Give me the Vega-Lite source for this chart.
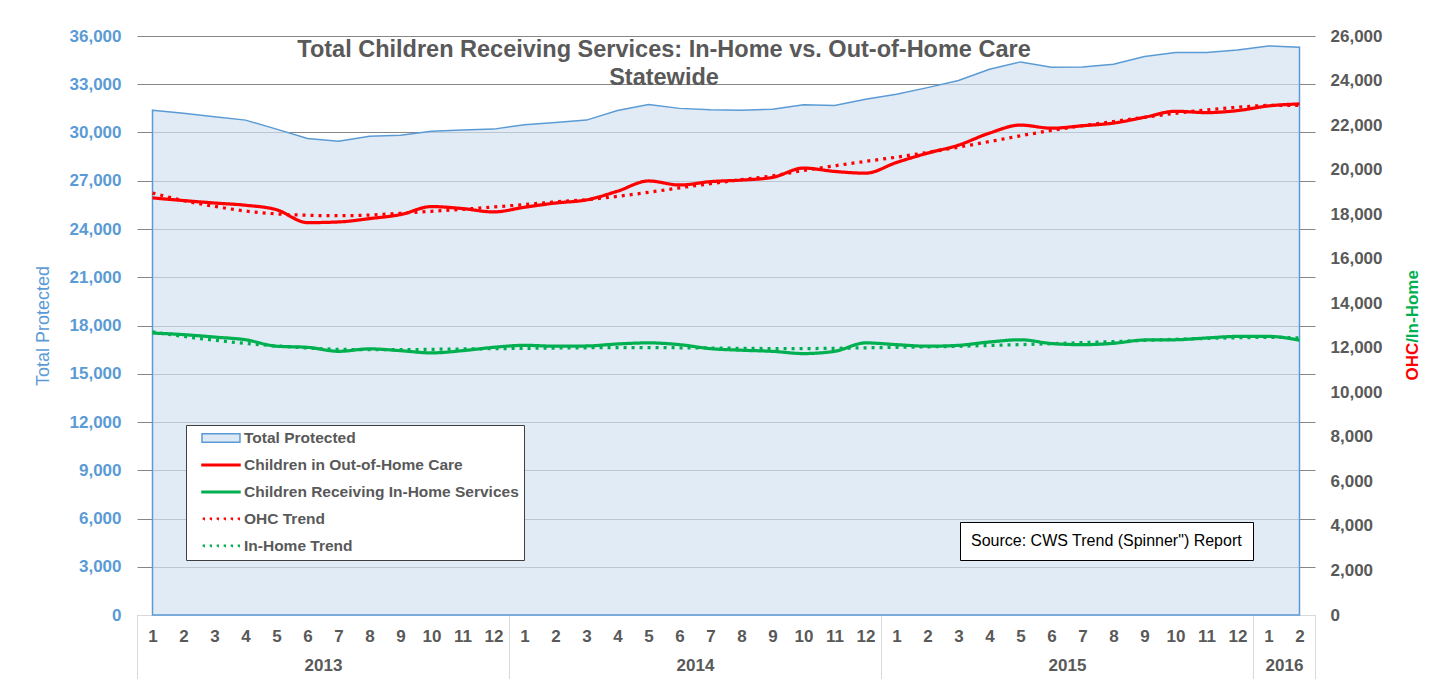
{
  "$schema": "https://vega.github.io/schema/vega-lite/v6.json",
  "width": 1178,
  "height": 579,
  "autosize": "none",
  "padding": {"left": 137, "top": 36, "right": 129, "bottom": 64},
  "background": "white",
  "config": {"font": "Liberation Sans", "view": {"stroke": null}},
  "title": {
    "text": ["Total Children Receiving Services: In-Home vs. Out-of-Home Care", "Statewide"],
    "fontSize": 23.5, "fontWeight": "bold", "color": "#595959", "lineHeight": 28,
    "anchor": "middle", "frame": "group", "dx": -62, "offset": -62
  },
  "data": {"values": [
    {"m":1,"tp":31390,"ohc":18730,"ohct":18950,"ih":12660,"iht":12710},
    {"m":2,"tp":31190,"ohc":18610,"ohct":18610,"ih":12590,"iht":12510},
    {"m":3,"tp":30980,"ohc":18500,"ohct":18350,"ih":12480,"iht":12340},
    {"m":4,"tp":30770,"ohc":18400,"ohct":18140,"ih":12360,"iht":12200},
    {"m":5,"tp":30210,"ohc":18200,"ohct":18010,"ih":12070,"iht":12080},
    {"m":6,"tp":29630,"ohc":17620,"ohct":17950,"ih":12020,"iht":11990},
    {"m":7,"tp":29460,"ohc":17650,"ohct":17930,"ih":11840,"iht":11930},
    {"m":8,"tp":29770,"ohc":17800,"ohct":17960,"ih":11950,"iht":11915},
    {"m":9,"tp":29830,"ohc":17980,"ohct":18040,"ih":11870,"iht":11915},
    {"m":10,"tp":30080,"ohc":18340,"ohct":18130,"ih":11770,"iht":11930},
    {"m":11,"tp":30150,"ohc":18250,"ohct":18220,"ih":11870,"iht":11945},
    {"m":12,"tp":30210,"ohc":18100,"ohct":18320,"ih":12020,"iht":11960},
    {"m":13,"tp":30480,"ohc":18310,"ohct":18430,"ih":12110,"iht":11975},
    {"m":14,"tp":30620,"ohc":18500,"ohct":18550,"ih":12070,"iht":11990},
    {"m":15,"tp":30770,"ohc":18640,"ohct":18650,"ih":12080,"iht":12000},
    {"m":16,"tp":31370,"ohc":19030,"ohct":18800,"ih":12170,"iht":12005},
    {"m":17,"tp":31740,"ohc":19490,"ohct":18980,"ih":12220,"iht":12005},
    {"m":18,"tp":31500,"ohc":19310,"ohct":19180,"ih":12140,"iht":12000},
    {"m":19,"tp":31410,"ohc":19460,"ohct":19370,"ih":11960,"iht":11990},
    {"m":20,"tp":31390,"ohc":19530,"ohct":19550,"ih":11890,"iht":11975},
    {"m":21,"tp":31450,"ohc":19650,"ohct":19720,"ih":11840,"iht":11965},
    {"m":22,"tp":31720,"ohc":20070,"ohct":19960,"ih":11740,"iht":11965},
    {"m":23,"tp":31680,"ohc":19920,"ohct":20170,"ih":11840,"iht":11975},
    {"m":24,"tp":32070,"ohc":19840,"ohct":20370,"ih":12220,"iht":12000},
    {"m":25,"tp":32380,"ohc":20320,"ohct":20560,"ih":12140,"iht":12020},
    {"m":26,"tp":32790,"ohc":20740,"ohct":20770,"ih":12070,"iht":12040},
    {"m":27,"tp":33230,"ohc":21100,"ohct":21010,"ih":12110,"iht":12065},
    {"m":28,"tp":33930,"ohc":21640,"ohct":21260,"ih":12260,"iht":12105},
    {"m":29,"tp":34390,"ohc":22000,"ohct":21520,"ih":12360,"iht":12140},
    {"m":30,"tp":34060,"ohc":21860,"ohct":21760,"ih":12190,"iht":12185},
    {"m":31,"tp":34080,"ohc":21970,"ohct":21970,"ih":12140,"iht":12230},
    {"m":32,"tp":34240,"ohc":22090,"ohct":22160,"ih":12200,"iht":12275},
    {"m":33,"tp":34720,"ohc":22350,"ohct":22350,"ih":12350,"iht":12335},
    {"m":34,"tp":34970,"ohc":22620,"ohct":22530,"ih":12360,"iht":12380},
    {"m":35,"tp":34970,"ohc":22560,"ohct":22680,"ih":12440,"iht":12420},
    {"m":36,"tp":35130,"ohc":22650,"ohct":22800,"ih":12510,"iht":12450},
    {"m":37,"tp":35380,"ohc":22860,"ohct":22880,"ih":12510,"iht":12470},
    {"m":38,"tp":35300,"ohc":22950,"ohct":22880,"ih":12340,"iht":12440}
  ]},
  "layer": [
    {
      "transform": [{"fold": ["tp"], "as": ["key", "v"]}],
      "mark": {"type": "area", "fill": "#D4E2F1", "fillOpacity": 0.7, "strokeWidth": 1.5},
      "encoding": {
        "x": {"field": "m", "type": "quantitative",
          "scale": {"domain": [0.5, 38.5], "nice": false, "zero": false},
          "axis": {"orient": "bottom", "values": [1,2,3,4,5,6,7,8,9,10,11,12,13,14,15,16,17,18,19,20,21,22,23,24,25,26,27,28,29,30,31,32,33,34,35,36,37,38],
            "labelExpr": "(datum.value - 1) % 12 + 1", "grid": false, "ticks": false, "tickSize": 0,
            "domain": true, "domainColor": "#D9D9D9", "labelFontSize": 17, "labelFontWeight": "bold",
            "labelColor": "#595959", "labelPadding": 13, "labelOverlap": false, "labelFlush": false, "title": null}},
        "y": {"field": "v", "type": "quantitative", "stack": null,
          "scale": {"domain": [0, 36000], "nice": false, "zero": true},
          "axis": {"orient": "left", "values": [0,3000,6000,9000,12000,15000,18000,21000,24000,27000,30000,33000,36000],
            "format": ",.0f", "grid": true, "gridColor": "#868686", "gridWidth": 1, "ticks": false, "domain": false,
            "labelFontSize": 17, "labelFontWeight": "bold", "labelColor": "#5B9BD5", "labelPadding": 16,
            "title": "Total Protected", "titleColor": "#5B9BD5", "titleFontSize": 18, "titleFontWeight": "normal", "titlePadding": 17}},
        "stroke": {"field": "key", "type": "nominal",
          "scale": {"domain": ["tp", "ohc", "ih", "ohct", "iht"], "range": ["#5B9BD5", "#FF0000", "#00B050", "#FF0000", "#00B050"]},
          "legend": {"orient": "none", "legendX": 49, "legendY": 389, "title": null,
            "labelExpr": "datum.value === 'tp' ? 'Total Protected' : datum.value === 'ohc' ? 'Children in Out-of-Home Care' : datum.value === 'ih' ? 'Children Receiving In-Home Services' : datum.value === 'ohct' ? 'OHC Trend' : 'In-Home Trend'",
            "labelFontSize": 15.5, "labelFontWeight": "bold", "labelColor": "#595959", "labelLimit": 500, "labelOffset": 37,
            "symbolSize": 196, "symbolStrokeWidth": 1.5, "rowPadding": 10, "padding": 5,
            "fillColor": "#FFFFFF", "strokeColor": "#404040",
            "encode": {"symbols": {"update": {
              "shape": {"signal": "datum.value === 'tp' ? 'M0.429,-0.6H5.857V0.6H0.429Z' : (datum.value === 'ohc' || datum.value === 'ih') ? 'M0.429,-0.107H5.857V0.107H0.429Z' : 'M0.536,-0.107H0.75V0.107H0.536Z M1.536,-0.107H1.75V0.107H1.536Z M2.536,-0.107H2.75V0.107H2.536Z M3.536,-0.107H3.75V0.107H3.536Z M4.536,-0.107H4.75V0.107H4.536Z M5.536,-0.107H5.75V0.107H5.536Z'"},
              "fill": {"signal": "datum.value === 'tp' ? '#DCE9F5' : (datum.value === 'ohc' || datum.value === 'ohct') ? '#FF0000' : '#00B050'"},
              "strokeDash": {"value": []},
              "opacity": {"value": 1},
              "fillOpacity": {"value": 1},
              "strokeOpacity": {"value": 1}
            }}}}}
      }
    },
    {
      "transform": [{"fold": ["ohct", "ohc"], "as": ["key", "v"]}],
      "mark": {"type": "line", "strokeWidth": 3.25, "interpolate": "monotone"},
      "encoding": {
        "x": {"field": "m", "type": "quantitative",
          "scale": {"domain": [0.5, 38.5], "nice": false, "zero": false},
          "axis": {"orient": "bottom", "values": [0.5, 6.5, 12.5, 18.5, 24.5, 30.5, 36.5, 37.5, 38.5],
            "labelExpr": "datum.value === 6.5 ? '2013' : datum.value === 18.5 ? '2014' : datum.value === 30.5 ? '2015' : datum.value === 37.5 ? '2016' : ''",
            "grid": false, "domain": false, "ticks": true, "tickSize": 64, "tickColor": "#D9D9D9", "tickWidth": 1,
            "tickOpacity": {"condition": {"test": "datum.value === 6.5 || datum.value === 18.5 || datum.value === 30.5 || datum.value === 37.5", "value": 0}, "value": 1},
            "labelFontSize": 17, "labelFontWeight": "bold", "labelColor": "#595959", "labelPadding": -22,
            "labelOverlap": false, "labelFlush": false, "title": null}},
        "y": {"field": "v", "type": "quantitative",
          "scale": {"domain": [0, 26000], "nice": false, "zero": true},
          "axis": {"orient": "right", "values": [0,2000,4000,6000,8000,10000,12000,14000,16000,18000,20000,22000,24000,26000],
            "format": ",.0f", "grid": false, "ticks": false, "domain": false,
            "labelFontSize": 17, "labelFontWeight": "bold", "labelColor": "#595959", "labelPadding": 15,
            "title": "OHC", "titleColor": "#FF0000", "titleFontSize": 17, "titleFontWeight": "bold",
            "titleAngle": 270, "titleX": 97, "titleY": 325, "titleAlign": "center", "titleBaseline": "middle"}},
        "stroke": {"field": "key", "type": "nominal",
          "scale": {"domain": ["tp", "ohc", "ih", "ohct", "iht"], "range": ["#5B9BD5", "#FF0000", "#00B050", "#FF0000", "#00B050"]},
          "legend": {"orient": "none", "legendX": 49, "legendY": 389, "title": null,
            "labelExpr": "datum.value === 'tp' ? 'Total Protected' : datum.value === 'ohc' ? 'Children in Out-of-Home Care' : datum.value === 'ih' ? 'Children Receiving In-Home Services' : datum.value === 'ohct' ? 'OHC Trend' : 'In-Home Trend'",
            "labelFontSize": 15.5, "labelFontWeight": "bold", "labelColor": "#595959", "labelLimit": 500, "labelOffset": 37,
            "symbolSize": 196, "symbolStrokeWidth": 1.5, "rowPadding": 10, "padding": 5,
            "fillColor": "#FFFFFF", "strokeColor": "#404040",
            "encode": {"symbols": {"update": {
              "shape": {"signal": "datum.value === 'tp' ? 'M0.429,-0.6H5.857V0.6H0.429Z' : (datum.value === 'ohc' || datum.value === 'ih') ? 'M0.429,-0.107H5.857V0.107H0.429Z' : 'M0.536,-0.107H0.75V0.107H0.536Z M1.536,-0.107H1.75V0.107H1.536Z M2.536,-0.107H2.75V0.107H2.536Z M3.536,-0.107H3.75V0.107H3.536Z M4.536,-0.107H4.75V0.107H4.536Z M5.536,-0.107H5.75V0.107H5.536Z'"},
              "fill": {"signal": "datum.value === 'tp' ? '#DCE9F5' : (datum.value === 'ohc' || datum.value === 'ohct') ? '#FF0000' : '#00B050'"},
              "strokeDash": {"value": []},
              "opacity": {"value": 1},
              "fillOpacity": {"value": 1},
              "strokeOpacity": {"value": 1}
            }}}}},
        "strokeDash": {"field": "key", "type": "nominal",
          "scale": {"domain": ["tp", "ohc", "ih", "ohct", "iht"], "range": [[1, 0], [1, 0], [1, 0], [3, 5], [3, 5]]},
          "legend": null}
      }
    },
    {
      "transform": [{"fold": ["iht", "ih"], "as": ["key", "v"]}],
      "mark": {"type": "line", "strokeWidth": 3.25, "interpolate": "monotone"},
      "encoding": {
        "x": {"field": "m", "type": "quantitative",
          "scale": {"domain": [0.5, 38.5], "nice": false, "zero": false}, "axis": null},
        "y": {"field": "v", "type": "quantitative",
          "scale": {"domain": [0, 26000], "nice": false, "zero": true},
          "axis": {"orient": "right", "labels": false, "ticks": false, "domain": false, "grid": false,
            "title": "/In-Home", "titleColor": "#00B050", "titleFontSize": 17, "titleFontWeight": "bold",
            "titleAngle": 270, "titleX": 97, "titleY": 270, "titleAlign": "center", "titleBaseline": "middle"}},
        "stroke": {"field": "key", "type": "nominal",
          "scale": {"domain": ["tp", "ohc", "ih", "ohct", "iht"], "range": ["#5B9BD5", "#FF0000", "#00B050", "#FF0000", "#00B050"]},
          "legend": {"orient": "none", "legendX": 49, "legendY": 389, "title": null,
            "labelExpr": "datum.value === 'tp' ? 'Total Protected' : datum.value === 'ohc' ? 'Children in Out-of-Home Care' : datum.value === 'ih' ? 'Children Receiving In-Home Services' : datum.value === 'ohct' ? 'OHC Trend' : 'In-Home Trend'",
            "labelFontSize": 15.5, "labelFontWeight": "bold", "labelColor": "#595959", "labelLimit": 500, "labelOffset": 37,
            "symbolSize": 196, "symbolStrokeWidth": 1.5, "rowPadding": 10, "padding": 5,
            "fillColor": "#FFFFFF", "strokeColor": "#404040",
            "encode": {"symbols": {"update": {
              "shape": {"signal": "datum.value === 'tp' ? 'M0.429,-0.6H5.857V0.6H0.429Z' : (datum.value === 'ohc' || datum.value === 'ih') ? 'M0.429,-0.107H5.857V0.107H0.429Z' : 'M0.536,-0.107H0.75V0.107H0.536Z M1.536,-0.107H1.75V0.107H1.536Z M2.536,-0.107H2.75V0.107H2.536Z M3.536,-0.107H3.75V0.107H3.536Z M4.536,-0.107H4.75V0.107H4.536Z M5.536,-0.107H5.75V0.107H5.536Z'"},
              "fill": {"signal": "datum.value === 'tp' ? '#DCE9F5' : (datum.value === 'ohc' || datum.value === 'ohct') ? '#FF0000' : '#00B050'"},
              "strokeDash": {"value": []},
              "opacity": {"value": 1},
              "fillOpacity": {"value": 1},
              "strokeOpacity": {"value": 1}
            }}}}},
        "strokeDash": {"field": "key", "type": "nominal",
          "scale": {"domain": ["tp", "ohc", "ih", "ohct", "iht"], "range": [[1, 0], [1, 0], [1, 0], [3, 5], [3, 5]]},
          "legend": null}
      }
    },
    {
      "data": {"values": [{"src": "Source: CWS Trend (Spinner\") Report"}]},
      "mark": {"type": "point", "opacity": 0},
      "encoding": {
        "shape": {"field": "src", "type": "nominal",
          "legend": {"orient": "none", "legendX": 823, "legendY": 486, "title": null,
            "symbolSize": 0, "symbolOpacity": 0, "symbolStrokeWidth": 0,
            "labelFontSize": 16, "labelColor": "#000000", "labelFontWeight": "normal", "labelLimit": 500, "labelOffset": -16,
            "padding": 11, "fillColor": "#FFFFFF", "strokeColor": "#000000"}}
      }
    }
  ],
  "resolve": {"scale": {"x": "independent", "y": "independent"}}
}
